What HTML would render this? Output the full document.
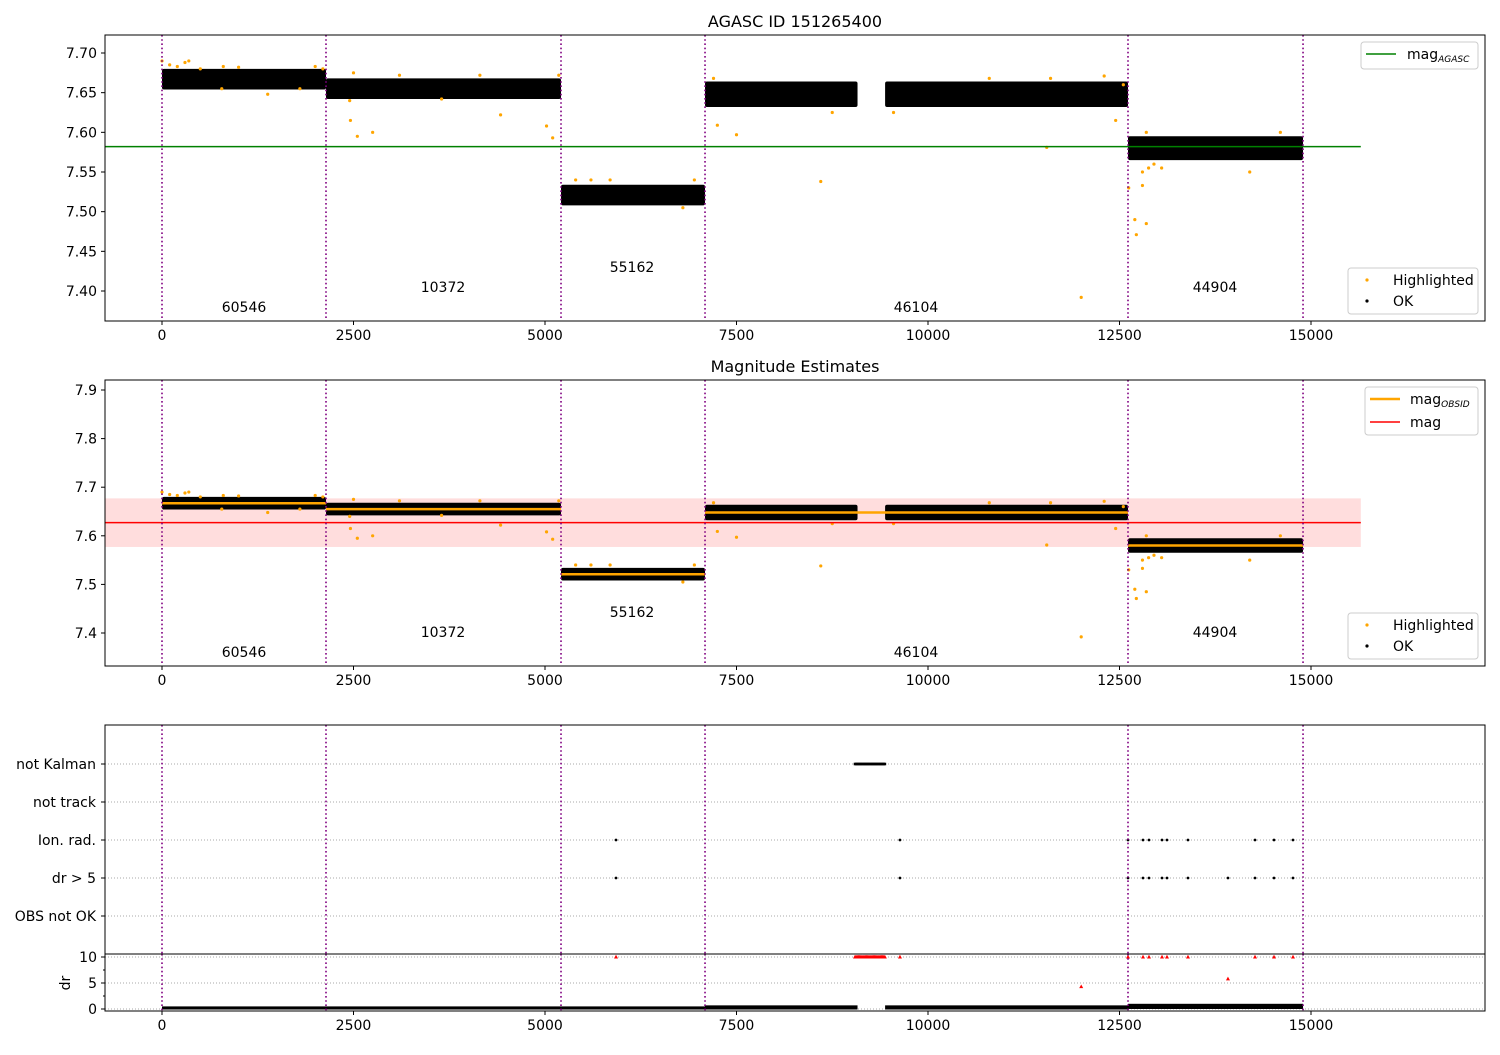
<!DOCTYPE html>
<html><head><meta charset="utf-8"><style>
body{margin:0;background:#fff;}
svg text{font-family:"DejaVu Sans","Liberation Sans",sans-serif;fill:#000;}
</style></head><body>
<svg id="c" width="1500" height="1050" xmlns="http://www.w3.org/2000/svg"></svg>
<script>
// ---- data ----
const obsidStarts=[0,2141,5209,7089,12611];
const obsidEnds=[2141,5209,7089,12611,14896];
const obsidLabels=["60546","10372","55162","46104","44904"];
const obsidMeans=[7.667,7.655,7.521,7.648,7.580];
const obsidSpread=[0.013,0.013,0.013,0.016,0.015];
const gapStart=[9080];const gapEnd=[9440];
const magAgasc=7.582;
const magEst=7.627;const magErr=0.050;
const hlX=[0,100,200,300,350,500,780,800,1000,1380,1800,2000,2100,2450,2460,2550,2500,2750,3100,3650,4150,4420,5020,5100,5180,5400,5600,5850,6800,6950,7200,7250,7500,8600,8750,9550,10800,11550,11600,12300,12450,12550,12620,12700,12720,12800,12800,12850,12880,12950,13050,12000,14200,14600,12850];
const hlY=[7.690,7.685,7.683,7.688,7.690,7.680,7.655,7.683,7.682,7.648,7.655,7.683,7.680,7.640,7.615,7.595,7.675,7.600,7.672,7.642,7.672,7.622,7.608,7.593,7.672,7.540,7.540,7.540,7.505,7.540,7.668,7.609,7.597,7.538,7.625,7.625,7.668,7.581,7.668,7.671,7.615,7.660,7.530,7.490,7.471,7.550,7.533,7.485,7.555,7.560,7.555,7.392,7.550,7.600,7.600];
const flagCats=["not Kalman","not track","Ion. rad.","dr > 5","OBS not OK"];
const ionX=[5927,9634,12611,12807,12885,13055,13120,13394,14269,14517,14765];
const drgt5X=[5927,9634,12611,12807,12885,13055,13120,13394,13916,14269,14517,14765];
const kalX=[];for(let t=9047;t<=9439;t+=15)kalX.push(t);
const drRedX=[5927,9634,12611,12807,12885,13055,13120,13394,14269,14517,14765,13916,12000].concat(kalX);
const drRedY=[10,10,10,10,10,10,10,10,10,10,10,5.8,4.3].concat(kalX.map(()=>10));
const drMean=[0.2,0.2,0.2,0.3,0.5];const drSpread=[0.3,0.3,0.3,0.4,0.5];
const xTicks=[0,2500,5000,7500,10000,12500,15000];
const y1Ticks=[7.40,7.45,7.50,7.55,7.60,7.65,7.70];
const y2Ticks=[7.4,7.5,7.6,7.7,7.8,7.9];
const drTicks=[0,5,10];
const vlines=[0,2141,5209,7089,12611,14896];
// ---- drawing ----
const S=document.getElementById('c');const NS="http://www.w3.org/2000/svg";
function el(t,a,p){const e=document.createElementNS(NS,t);for(const k in a)e.setAttribute(k,a[k]);(p||S).appendChild(e);return e;}
const L=105,R=1485,FS=14;
const X=v=>162+v*1149/15000;
function lin(d0,d1,p0,p1){return v=>p0+(v-d0)*(p1-p0)/(d1-d0);}
const P1={top:35,bot:321,y:lin(7.70,7.40,53,291)};
const P2={top:380,bot:666,y:lin(7.9,7.4,390,633)};
function frame(P,name){const r=el('rect',{x:L,y:P.top,width:R-L,height:P.bot-P.top,fill:'none',stroke:'#000','stroke-width':1});}
function xaxis(bot,labels){xTicks.forEach(t=>{el('line',{x1:X(t),x2:X(t),y1:bot,y2:bot+4,stroke:'#000'});if(labels){const tx=el('text',{x:X(t),y:bot+19,'font-size':FS,'text-anchor':'middle'});tx.textContent=t;}});}
function yaxis(ticks,Y,fmt){ticks.forEach(t=>{el('line',{x1:L-4,x2:L,y1:Y(t),y2:Y(t),stroke:'#000'});const tx=el('text',{x:L-8,y:Y(t)+5,'font-size':FS,'text-anchor':'end'});tx.textContent=fmt(t);});}
function vl(top,bot){vlines.forEach(v=>{const l=el('line',{x1:X(v),x2:X(v),y1:top,y2:bot,stroke:'#800080','stroke-width':1.6,'stroke-dasharray':'1.6,2.6'});});}
function segParts(i){const s=obsidStarts[i],e=obsidEnds[i];return i==3?[[s,gapStart[0]],[gapEnd[0],e]]:[[s,e]];}
function magPanel(P,withEst){
  const Y=P.y;
  if(withEst){const b=el('rect',{x:L,y:Y(magEst+magErr),width:X(15650)-L,height:Y(magEst-magErr)-Y(magEst+magErr),fill:'#ff000022'});}
  obsidStarts.forEach((s,i)=>{
    const m=obsidMeans[i],sp=obsidSpread[i];
    segParts(i).forEach(g=>{const r=el('rect',{x:X(g[0]),y:Y(m+sp),width:X(g[1])-X(g[0]),height:Y(m-sp)-Y(m+sp),fill:'#000',rx:2});});
  });
  hlX.forEach((v,i)=>{const c=el('circle',{cx:X(v),cy:Y(hlY[i]),r:1.6,fill:'orange'});});
  if(withEst){
    obsidStarts.forEach((s,i)=>{const l=el('line',{x1:X(s),x2:X(obsidEnds[i]),y1:Y(obsidMeans[i]),y2:Y(obsidMeans[i]),stroke:'orange','stroke-width':2.5});});
    const l=el('line',{x1:L,x2:X(15650),y1:Y(magEst),y2:Y(magEst),stroke:'red','stroke-width':1.5});
  } else {
    const l=el('line',{x1:L,x2:X(15650),y1:Y(magAgasc),y2:Y(magAgasc),stroke:'green','stroke-width':1.5});
  }
  vl(P.top,P.bot);
  const ly=withEst?[652,632,612,652,632]:[307,287,267,307,287];
  const lx=[244,443,632,916,1215];
  obsidLabels.forEach((t,i)=>{const tx=el('text',{x:lx[i],y:ly[i]+5,'font-size':FS,'text-anchor':'middle'});tx.textContent=t;});
  frame(P,withEst?'estimates-axes':'agasc-axes');
  xaxis(P.bot,true);
  yaxis(withEst?y2Ticks:y1Ticks,Y,t=>withEst?t.toFixed(1):t.toFixed(2));
  const g=el('g',{});
  el('rect',{x:1348,y:P.bot-53,width:130,height:46,rx:3,fill:'#fff',stroke:'#ccc'},g);
  el('circle',{cx:1367,cy:P.bot-41,r:1.6,fill:'orange'},g);
  el('circle',{cx:1367,cy:P.bot-20,r:1.6,fill:'#000'},g);
  let t=el('text',{x:1393,y:P.bot-36,'font-size':FS},g);t.textContent='Highlighted';
  t=el('text',{x:1393,y:P.bot-15,'font-size':FS},g);t.textContent='OK';
  const g2=el('g',{});
  if(withEst){
    el('rect',{x:1365,y:387,width:113,height:48,rx:3,fill:'#fff',stroke:'#ccc'},g2);
    el('line',{x1:1370,x2:1400,y1:399,y2:399,stroke:'orange','stroke-width':2.5},g2);
    el('line',{x1:1370,x2:1400,y1:422,y2:422,stroke:'red','stroke-width':1.5},g2);
    t=el('text',{x:1410,y:404,'font-size':FS},g2);t.innerHTML='mag<tspan font-size="9" font-style="italic" dy="3">OBSID</tspan>';
    t=el('text',{x:1410,y:427,'font-size':FS},g2);t.textContent='mag';
  } else {
    el('rect',{x:1361,y:42,width:117,height:27,rx:3,fill:'#fff',stroke:'#ccc'},g2);
    el('line',{x1:1366,x2:1396,y1:54,y2:54,stroke:'green','stroke-width':1.5},g2);
    t=el('text',{x:1407,y:59,'font-size':FS},g2);t.innerHTML='mag<tspan font-size="9" font-style="italic" dy="3">AGASC</tspan>';
  }
}
let tt=el('text',{x:795,y:27,'font-size':16,'text-anchor':'middle'});tt.textContent='AGASC ID 151265400';
tt=el('text',{x:795,y:372,'font-size':16,'text-anchor':'middle'});tt.textContent='Magnitude Estimates';
magPanel(P1,false);magPanel(P2,true);
// flags panel
const FY=[764,802,840,878,916];
const F={top:725,bot:954};
flagCats.forEach((c,i)=>{el('line',{x1:L,x2:R,y1:FY[i],y2:FY[i],stroke:'#aaa','stroke-dasharray':'1,2'});el('line',{x1:L-4,x2:L,y1:FY[i],y2:FY[i],stroke:'#000'});const tx=el('text',{x:L-9,y:FY[i]+5,'font-size':FS,'text-anchor':'end'});tx.textContent=c;});
kalX.forEach(v=>{const r=el('rect',{x:X(v)-1.3,y:FY[0]-1.3,width:2.6,height:2.6,fill:'#000'});});
ionX.forEach(v=>{const r=el('circle',{cx:X(v),cy:FY[2],r:1.4,fill:'#000'});});
drgt5X.forEach(v=>{const r=el('circle',{cx:X(v),cy:FY[3],r:1.4,fill:'#000'});});
vl(F.top,F.bot);
frame(F,'flags-axes');
// dr panel
const D={top:954,bot:1011,y:lin(0,10,1009,957)};
drTicks.forEach(t=>{el('line',{x1:L,x2:R,y1:D.y(t),y2:D.y(t),stroke:'#aaa','stroke-dasharray':'1,2'});});
obsidStarts.forEach((s,i)=>{const m=drMean[i],sp=drSpread[i];segParts(i).forEach(g=>{const r=el('rect',{x:X(g[0]),y:D.y(m+sp),width:X(g[1])-X(g[0]),height:D.y(Math.max(m-sp,-0.2))-D.y(m+sp),fill:'#000'});});});
drRedX.forEach((v,i)=>{const y=D.y(drRedY[i]);const p=el('path',{d:`M${X(v)} ${y-2.2}L${X(v)+2} ${y+1.5}L${X(v)-2} ${y+1.5}Z`,fill:'red'});});
vl(D.top,D.bot);
frame(D,'dr-axes');
xaxis(D.bot,true);
yaxis(drTicks,D.y,t=>t);
[2.5,7.5].forEach(t=>el('line',{x1:L-2,x2:L,y1:D.y(t),y2:D.y(t),stroke:'#000'}));
tt=el('text',{x:70,y:983,'font-size':FS,'text-anchor':'middle',transform:'rotate(-90 70 983)'});tt.textContent='dr';
</script>
</body></html>
